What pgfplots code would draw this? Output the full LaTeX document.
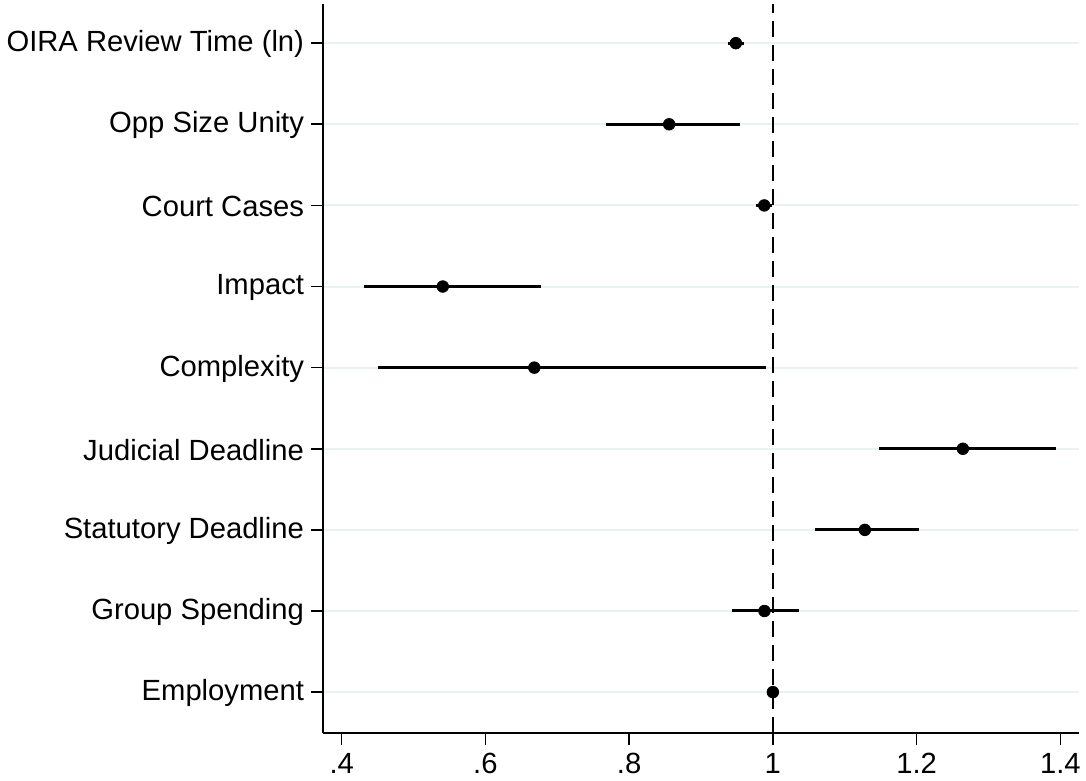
\documentclass[border=0pt]{standalone}
\usepackage{fontspec}
\setmainfont{Liberation Sans}
\usepackage{pgfplots}
\pgfplotsset{compat=1.18}
\definecolor{gridc}{HTML}{EAF2F3}
\begin{document}
\fontsize{14.6bp}{17bp}\selectfont
\begin{tikzpicture}
\begin{axis}[
  at={(0,0)}, anchor=south west,
  scale only axis, width=378bp, height=364.5bp,
  xmin=0.374, xmax=1.426, ymin=0.496, ymax=9.483,
  axis x line*=bottom, axis y line*=left,
  axis line style={line width=0.7bp, -},
  tick align=outside, major tick length=6bp,
  tick style={line width=0.8bp, black},
  xtick={0.4,0.6,0.8,1,1.2,1.4},
  xticklabels={.4,.6,.8,1,1.2,1.4},
  ytick={1,2,3,4,5,6,7,8,9},
  yticklabels={Employment,Group Spending,Statutory Deadline,Judicial Deadline,Complexity,Impact,Court Cases,Opp Size Unity,OIRA Review Time (ln)},
  xticklabel style={inner sep=0pt, anchor=north, yshift=-3.8bp, font=\fontsize{14.6bp}{17bp}\selectfont},
  yticklabel style={inner sep=0pt, anchor=east, xshift=-3.3bp, yshift=-0.5bp, font=\fontsize{14.6bp}{17bp}\selectfont},
  ymajorgrids, major grid style={color=gridc, line width=1bp},
  clip=false,
]
\addplot[black, line width=1bp, dash pattern=on 8bp off 4bp] coordinates {(1,0.496) (1,9.483)};
\addplot[only marks, mark=*, mark size=2.9bp, black,
  error bars/.cd, x dir=both, x explicit,
  error bar style={line width=1.5bp, black}, error mark=none]
coordinates {
(0.9485,9) -= (0.0105,0) += (0.0115,0)
(0.8557,8) -= (0.0881,0) += (0.0992,0)
(0.988,7) -= (0.0112,0) += (0.0105,0)
(0.5407,6) -= (0.1091,0) += (0.1368,0)
(0.668,5) -= (0.217,0) += (0.323,0)
(1.2644,4) -= (0.1174,0) += (0.1299,0)
(1.128,3) -= (0.0695,0) += (0.0747,0)
(0.9883,2) -= (0.0453,0) += (0.0479,0)
(1.0,1) -= (0.001,0) += (0.001,0)
};
\end{axis}
\pgfresetboundingbox
\path[use as bounding box] (-161.5bp,-24bp) rectangle (381.5bp,366.5bp);
\end{tikzpicture}
\end{document}
